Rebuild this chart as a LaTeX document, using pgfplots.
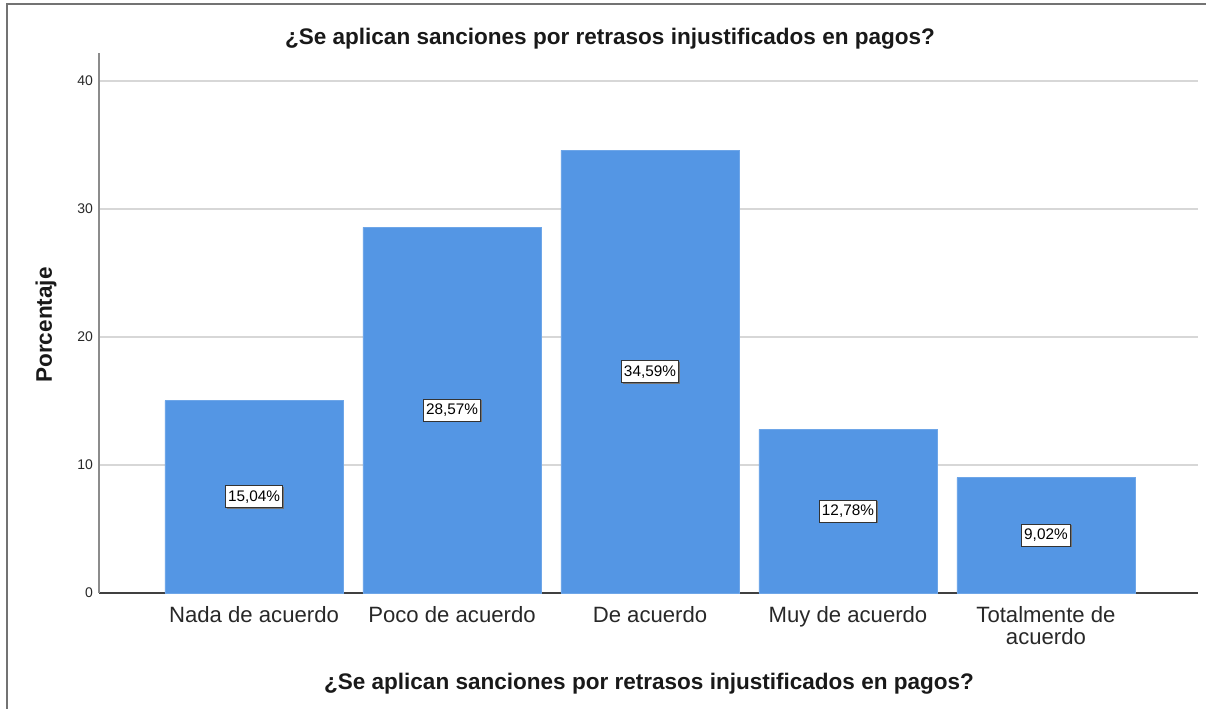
\documentclass[border=0pt]{standalone}
\usepackage{pgfplots}
\usepackage{pgfplotstable}
\pgfplotsset{compat=1.18}
\usetikzlibrary{shadows}
\usepackage{fontspec}
\setmainfont{Liberation Sans}
\definecolor{barblue}{RGB}{84,150,228}
\definecolor{gridgray}{RGB}{215,215,215}
\definecolor{txtgray}{RGB}{40,40,40}
\pgfplotstableread{
x y
0 15.04
1 28.57
2 34.59
3 12.78
4 9.02
}\data
\begin{document}
\begin{tikzpicture}[x=0.75pt,y=0.75pt]
\path[use as bounding box] (0,0) rectangle (1206,709);
\draw[line width=1.1pt, color=black!55] (7,0) -- (7,705) -- (1206,705);
\begin{axis}[
  at={(74.25pt,87pt)}, anchor=south west,
  scale only axis, width=824.25pt, height=405pt,
  xmin=-0.783, xmax=4.768, ymin=0, ymax=42.2,
  axis x line=bottom, axis y line=left,
  x axis line style={-, color=black!75, line width=0.8pt},
  y axis line style={-, color=black!45, line width=0.8pt},
  major tick length=0pt,
  ytick={0,10,20,30,40},
  xtick={0,1,2,3,4},
  xticklabels={Nada de acuerdo, Poco de acuerdo, De acuerdo, Muy de acuerdo, {Totalmente de\\acuerdo}},
  xticklabel style={align=center, font=\fontsize{16.6}{16.5}\selectfont, color=txtgray, yshift=-6.25pt},
  yticklabel style={font=\fontsize{10.5}{12}\selectfont, color=txtgray, xshift=-1pt},
  /pgf/number format/assume math mode=true,
  ymajorgrids, grid style={gridgray, line width=1.1pt},
  clip=false,
]
\addplot[ybar, bar width=0.9, fill=barblue, draw=barblue!85!white, line width=0.4pt] table[x=x, y=y] {\data};
\addplot[draw=none, point meta=explicit,
  nodes near coords={\pgfmathprintnumber[fixed, fixed zerofill, precision=2, use comma]{\pgfplotspointmeta}\%},
  nodes near coords align={center},
  every node near coord/.append style={anchor=center, font=\fontsize{11.5}{12}\selectfont, fill=white, draw=black!80, line width=0.6pt, inner xsep=2pt, inner ysep=3.5pt, text=black,
    drop shadow={shadow xshift=0.9pt, shadow yshift=-0.9pt, fill=black!55, opacity=1}}
] table[x=x, y expr=\thisrow{y}/2, meta=y] {\data};
\end{axis}
\node[anchor=base, font=\bfseries\fontsize{16.9}{20}\selectfont, text=black!90] at (610,664) {¿Se aplican sanciones por retrasos injustificados en pagos?};
\node[anchor=base, font=\bfseries\fontsize{16.9}{20}\selectfont, text=black!90] at (649,19) {¿Se aplican sanciones por retrasos injustificados en pagos?};
\node[anchor=base, rotate=90, font=\bfseries\fontsize{16.9}{20}\selectfont, text=black!90] at (52,384) {Porcentaje};
\end{tikzpicture}
\end{document}
